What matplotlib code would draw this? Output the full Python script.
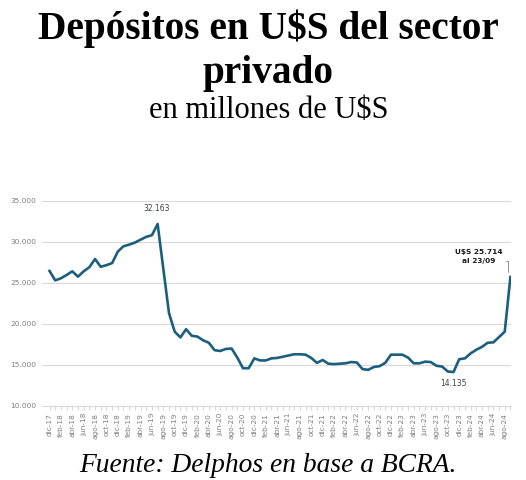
import matplotlib
matplotlib.use("Agg")
import matplotlib.pyplot as plt

months = ["dic-17","ene-18","feb-18","mar-18","abr-18","may-18","jun-18","jul-18","ago-18","sep-18","oct-18","nov-18",
          "dic-18","ene-19","feb-19","mar-19","abr-19","may-19","jun-19","jul-19","ago-19","sep-19","oct-19","nov-19",
          "dic-19","ene-20","feb-20","mar-20","abr-20","may-20","jun-20","jul-20","ago-20","sep-20","oct-20","nov-20",
          "dic-20","ene-21","feb-21","mar-21","abr-21","may-21","jun-21","jul-21","ago-21","sep-21","oct-21","nov-21",
          "dic-21","ene-22","feb-22","mar-22","abr-22","may-22","jun-22","jul-22","ago-22","sep-22","oct-22","nov-22",
          "dic-22","ene-23","feb-23","mar-23","abr-23","may-23","jun-23","jul-23","ago-23","sep-23","oct-23","nov-23",
          "dic-23","ene-24","feb-24","mar-24","abr-24","may-24","jun-24","jul-24","ago-24","sep-24"]

deposits = [26450, 25300, 25550, 25950, 26400, 25750, 26400, 26900, 27900, 26950, 27150, 27400,
            28800, 29450, 29650, 29900, 30250, 30600, 30800, 32163, 26700, 21300, 19050, 18350,
            19350, 18550, 18450, 18000, 17700, 16800, 16700, 16950, 17000, 15900, 14600, 14600,
            15800, 15550, 15550, 15800, 15850, 16000, 16150, 16300, 16300, 16250, 15850, 15250,
            15600, 15150, 15100, 15150, 15200, 15350, 15300, 14500, 14400, 14750, 14850, 15250,
            16250, 16250, 16250, 15900, 15200, 15200, 15400, 15350, 14900, 14800, 14200, 14135,
            15700, 15800, 16400, 16850, 17200, 17700, 17750, 18400, 19050, 25714]

y_ticks = [10000, 15000, 20000, 25000, 30000, 35000]
y_tick_labels = ["10.000", "15.000", "20.000", "25.000", "30.000", "35.000"]

peak_label = "32.163"
min_label = "14.135"
last_label = "U$S 25.714\nal 23/09"

fig = plt.figure(figsize=(5.26, 4.8), dpi=100)
W, H = 526, 480
ax = fig.add_axes([42 / W, 1 - 406 / H, (511 - 42) / W, (406 - 200.7) / H])

x = list(range(len(deposits)))
ax.plot(x, deposits, color="#1b5f7e", lw=1.9, solid_joinstyle="round", zorder=3)

ax.set_ylim(10000, 35000)
ax.set_xlim(-1.32, 81.1)
ax.set_yticks(y_ticks)
ax.set_yticklabels(y_tick_labels, fontsize=5.3, color="#7f7f7f", family="DejaVu Sans")
ax.tick_params(axis="y", length=0, pad=4)
for v in y_ticks[1:]:
    ax.axhline(v, color="#d9d9d9", lw=0.8, zorder=1)

ax.set_xticks(x, minor=True)
ax.set_xticks(x[::2])
ax.set_xticklabels(months[::2], rotation=90, fontsize=5.3, color="#7f7f7f", family="DejaVu Sans")
ax.tick_params(axis="x", which="both", length=3, color="#d9d9d9", width=0.8, pad=2)

for s in ["top", "right", "left"]:
    ax.spines[s].set_visible(False)
ax.spines["bottom"].set_color("#d9d9d9")
ax.spines["bottom"].set_linewidth(0.8)

i_peak = deposits.index(max(deposits))
i_min = deposits.index(min(deposits))
i_last = len(deposits) - 1

ax.annotate(peak_label, (i_peak, deposits[i_peak]), xytext=(-0.5, 8), textcoords="offset points",
            ha="center", va="bottom", fontsize=5.5, color="#404040")
ax.annotate(min_label, (i_min, deposits[i_min]), xytext=(0, -5), textcoords="offset points",
            ha="center", va="top", fontsize=5.5, color="#404040")
ax.annotate(last_label, (i_last, deposits[i_last]), xytext=(-23, 15), textcoords="offset points",
            ha="center", va="center", fontsize=5.3, fontweight="bold", color="#1a1a1a",
            linespacing=1.6)
# leader line (elbow) from label to the last point
ax.annotate("", xy=(i_last - 0.35, deposits[i_last] + 250), xytext=(i_last - 1.2, deposits[i_last] + 1900),
            arrowprops=dict(arrowstyle="-", color="#7f7f7f", lw=0.6,
                            connectionstyle="angle,angleA=0,angleB=90,rad=0"))

serif = ["Liberation Serif", "DejaVu Serif"]
fig.text(0.51, 1 - 39 / H, "Depósitos en U$S del sector", ha="center", va="baseline",
         fontsize=28.3, fontweight="bold", family=serif)
fig.text(0.51, 1 - 83 / H, "privado", ha="center", va="baseline",
         fontsize=28.3, fontweight="bold", family=serif)
fig.text(0.51, 1 - 118.3 / H, "en millones de U$S", ha="center", va="baseline",
         fontsize=22, family=serif)
fig.text(0.51, 1 - 471.7 / H, "Fuente: Delphos en base a BCRA.", ha="center", va="baseline",
         fontsize=19.8, style="italic", family=serif)

fig.savefig("out.png", dpi=100)
